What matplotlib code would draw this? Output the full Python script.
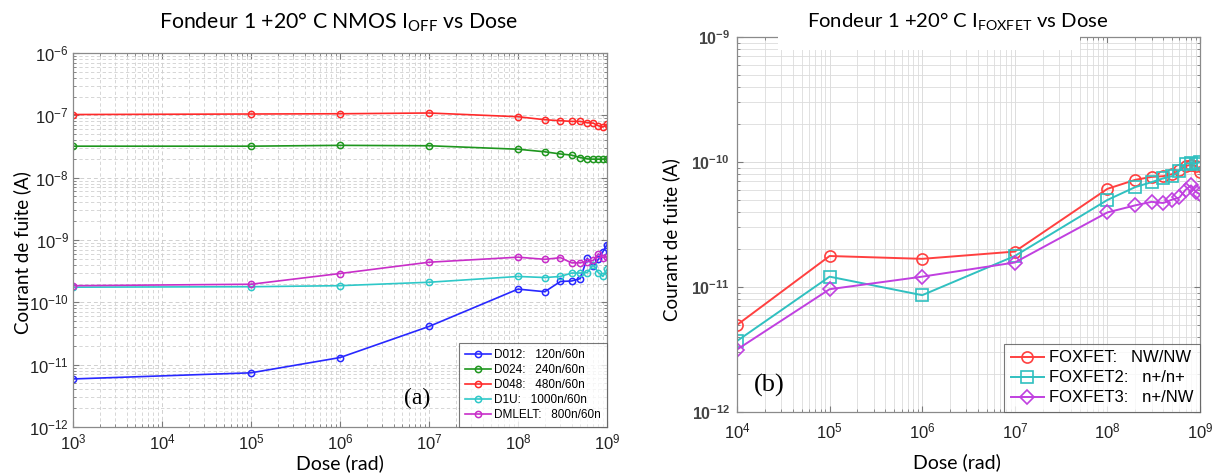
import matplotlib
matplotlib.use("Agg")
import matplotlib.pyplot as plt
from matplotlib.patches import Rectangle
from matplotlib.ticker import LogLocator, NullFormatter

plt.rcParams["font.family"] = ["Liberation Sans", "DejaVu Sans"]

# ---------------- data: panel (a) ----------------
dose_a = [1e3, 1e5, 1e6, 1e7, 1e8, 2e8, 3e8, 4e8, 5e8, 6e8, 7e8, 8e8, 9e8, 1e9]
d012 = [5.9e-12, 7.4e-12, 1.3e-11, 4.1e-11, 1.63e-10, 1.48e-10, 2.16e-10, 2.2e-10, 2.4e-10,
        5.1e-10, 3.85e-10, 4.9e-10, 6.5e-10, 8.4e-10]
d024 = [3.2e-8, 3.2e-8, 3.3e-8, 3.25e-8, 2.86e-8, 2.6e-8, 2.4e-8, 2.3e-8, 2.1e-8,
        2.0e-8, 1.98e-8, 1.98e-8, 1.98e-8, 2.0e-8]
d048 = [1.03e-7, 1.05e-7, 1.06e-7, 1.09e-7, 9.5e-8, 8.5e-8, 8.2e-8, 8.0e-8, 8.0e-8,
        7.6e-8, 7.5e-8, 6.8e-8, 6.5e-8, 7.2e-8]
d1u = [1.75e-10, 1.78e-10, 1.85e-10, 2.1e-10, 2.6e-10, 2.5e-10, 2.6e-10, 2.95e-10, 2.95e-10,
       3.0e-10, 4.0e-10, 3.0e-10, 2.6e-10, 3.4e-10]
dmlelt = [1.85e-10, 1.95e-10, 2.9e-10, 4.4e-10, 5.3e-10, 4.9e-10, 5.2e-10, 4.3e-10, 4.3e-10,
          4.5e-10, 4.7e-10, 6.0e-10, 5.2e-10, 5.4e-10]
labels_a = ["D012:   120n/60n", "D024:   240n/60n", "D048:   480n/60n",
            "D1U:   1000n/60n", "DMLELT:   800n/60n"]
colors_a = ["#2828ff", "#1e961e", "#ff2a2a", "#2ec8c8", "#c82ec8"]
xticks_a = [1e3, 1e4, 1e5, 1e6, 1e7, 1e8, 1e9]
xtick_labels_a = [r"$\mathregular{10^{3}}$", r"$\mathregular{10^{4}}$",
                  r"$\mathregular{10^{5}}$", r"$\mathregular{10^{6}}$",
                  r"$\mathregular{10^{7}}$", r"$\mathregular{10^{8}}$",
                  r"$\mathregular{10^{9}}$"]
yticks_a = [1e-12, 1e-11, 1e-10, 1e-9, 1e-8, 1e-7, 1e-6]
ytick_labels_a = [r"$\mathregular{10^{-12}}$", r"$\mathregular{10^{-11}}$",
                  r"$\mathregular{10^{-10}}$", r"$\mathregular{10^{-9}}$",
                  r"$\mathregular{10^{-8}}$", r"$\mathregular{10^{-7}}$",
                  r"$\mathregular{10^{-6}}$"]

# ---------------- data: panel (b) ----------------
dose_b = [1e4, 1e5, 1e6, 1e7, 1e8, 2e8, 3e8, 4e8, 5e8, 6e8, 7e8, 8e8, 9e8, 1e9]
foxfet = [4.97e-12, 1.77e-11, 1.68e-11, 1.92e-11, 6.1e-11, 7.2e-11, 7.6e-11, 7.7e-11, 8.0e-11,
          8.6e-11, 9.3e-11, 9.5e-11, 9.3e-11, 8.3e-11]
foxfet2 = [3.7e-12, 1.21e-11, 8.6e-12, 1.77e-11, 4.97e-11, 6.3e-11, 6.9e-11, 7.4e-11, 7.7e-11,
           8.5e-11, 9.7e-11, 9.8e-11, 9.7e-11, 1.0e-10]
foxfet3 = [3.16e-12, 9.6e-12, 1.21e-11, 1.57e-11, 3.95e-11, 4.5e-11, 4.8e-11, 4.7e-11, 5.0e-11,
           5.2e-11, 6.0e-11, 6.5e-11, 5.8e-11, 5.5e-11]
labels_b = ["FOXFET:   NW/NW", "FOXFET2:   n+/n+", "FOXFET3:   n+/NW"]
colors_b = ["#ff4040", "#30c0c0", "#c040e0"]
markers_b = ["o", "s", "D"]
xticks_b = [1e4, 1e5, 1e6, 1e7, 1e8, 1e9]
xtick_labels_b = xtick_labels_a[1:]
yticks_b = [1e-12, 1e-11, 1e-10, 1e-9]
ytick_labels_b = [r"$\mathregular{10^{-12}}$", r"$\mathregular{10^{-11}}$",
                  r"$\mathregular{10^{-10}}$", r"$\mathregular{10^{-9}}$"]

title_font = ["Lato", "DejaVu Sans"]

fig = plt.figure(figsize=(12.2, 4.74), dpi=100)
W, H = 1220, 474


def ax_rect(x0, y0, x1, y1):
    return [x0 / W, 1 - y1 / H, (x1 - x0) / W, (y1 - y0) / H]


def style_axes(ax, grid_ls, grid_color, xpad=4, ypad=3):
    ax.set_xscale("log")
    ax.set_yscale("log")
    ax.xaxis.set_minor_locator(LogLocator(base=10, subs=range(2, 10), numticks=20))
    ax.yaxis.set_minor_locator(LogLocator(base=10, subs=range(2, 10), numticks=20))
    ax.xaxis.set_minor_formatter(NullFormatter())
    ax.yaxis.set_minor_formatter(NullFormatter())
    ax.tick_params(which="both", direction="in", top=True, right=True, color="#7a7a7a")
    ax.tick_params(which="major", length=4)
    ax.tick_params(which="minor", length=2)
    ax.tick_params(axis="both", which="major", labelsize=11.5, labelcolor="#222222")
    ax.tick_params(axis="y", which="major", pad=ypad)
    ax.tick_params(axis="x", which="major", pad=xpad)
    for s in ax.spines.values():
        s.set_color("#8a8a8a")
        s.set_linewidth(0.9)
    ax.grid(True, which="major", ls=grid_ls, color=grid_color, lw=0.7)
    ax.grid(True, which="minor", ls=grid_ls, color=grid_color, lw=0.6)
    ax.set_axisbelow(True)


# ---------------- panel (a) ----------------
axa = fig.add_axes(ax_rect(73, 53, 607, 427))
for ys, lab, c in zip([d012, d024, d048, d1u, dmlelt], labels_a, colors_a):
    axa.plot(dose_a, ys, "-o", color=c, lw=1.2, ms=4.5, mfc="none", mew=1.1, label=lab)
style_axes(axa, (0, (4, 3)), "#d0d0d0")
axa.set_xticks(xticks_a)
axa.set_xticklabels(xtick_labels_a, fontsize=12)
axa.set_yticks(yticks_a)
axa.set_yticklabels(ytick_labels_a, fontsize=12)
axa.set_xlim(1e3, 1e9)
axa.set_ylim(1e-12, 1e-6)
leg = axa.legend(loc="lower right", frameon=True, fancybox=False,
                 borderaxespad=0.0, handlelength=2.2, labelspacing=0.25,
                 borderpad=0.5, handletextpad=0.3, prop={"size": 8.5})
leg.get_frame().set_edgecolor("#555555")
leg.get_frame().set_linewidth(0.8)
axa.text(0.645, 0.075, "(a)", transform=axa.transAxes, fontsize=17,
         family="Liberation Serif", ha="center", va="center")

fig.text(338 / W, 1 - 22 / H, r"Fondeur 1 +20° C NMOS I$_{\mathregular{OFF}}$ vs Dose",
         ha="center", va="center", fontsize=15.3, family=title_font)
fig.text(340 / W, 1 - 463 / H, "Dose (rad)", ha="center", va="center",
         fontsize=14, family=title_font)
fig.text(22 / W, 1 - 253 / H, "Courant de fuite (A)", ha="center", va="center",
         rotation=90, fontsize=13.5, family=title_font)

# ---------------- panel (b) ----------------
axb = fig.add_axes(ax_rect(737, 37, 1200, 412))
for ys, lab, c, m in zip([foxfet, foxfet2, foxfet3], labels_b, colors_b, markers_b):
    axb.plot(dose_b, ys, "-", marker=m, color=c, lw=1.4, ms=8 if m != "D" else 7,
             mfc="none", mew=1.2, label=lab)
style_axes(axb, "-", "#dcdcdc", xpad=7, ypad=5)
axb.set_xticks(xticks_b)
axb.set_xticklabels(xtick_labels_b, fontsize=12)
axb.set_yticks(yticks_b)
axb.set_yticklabels(ytick_labels_b, fontsize=11.5, fontweight="bold", color="#444444")
axb.set_xlim(1e4, 1e9)
axb.set_ylim(1e-12, 1e-9)
legb = axb.legend(loc="lower right", frameon=True, fancybox=False, borderaxespad=0.0,
                  handlelength=2.0, labelspacing=0.3, borderpad=0.4, handletextpad=0.3,
                  prop={"size": 12})
legb.get_frame().set_edgecolor("#555555")
legb.get_frame().set_linewidth(0.8)
axb.text(0.07, 0.072, "(b)", transform=axb.transAxes, fontsize=19,
         family="Liberation Serif", ha="center", va="center")

# white band hiding the top of panel (b) behind its title
fig.patches.append(Rectangle((778 / W, 1 - 50 / H), (1080 - 778) / W, 50 / H,
                             transform=fig.transFigure, facecolor="white",
                             edgecolor="none", zorder=10))
fig.text(958 / W, 1 - 22 / H, r"Fondeur 1 +20° C I$_{\mathregular{FOXFET}}$ vs Dose",
         ha="center", va="center", fontsize=14.6, family=title_font, zorder=11)
fig.text(957 / W, 1 - 462 / H, "Dose (rad)", ha="center", va="center",
         fontsize=14, family=title_font)
fig.text(671 / W, 1 - 240 / H, "Courant de fuite (A)", ha="center", va="center",
         rotation=90, fontsize=13.5, family=title_font)

fig.savefig("out.png", dpi=100, facecolor="white")
